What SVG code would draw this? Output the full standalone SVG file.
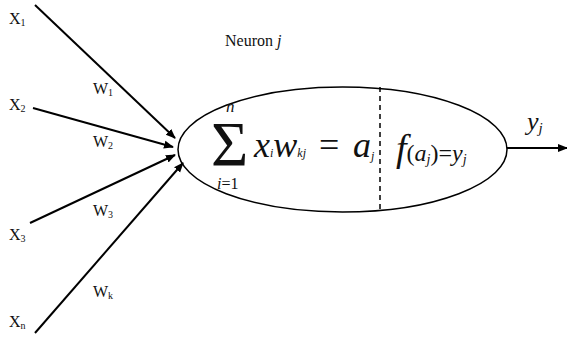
<svg xmlns="http://www.w3.org/2000/svg" width="567" height="340" viewBox="0 0 567 340">
<defs>
<marker id="ah" viewBox="0 0 10 10" refX="9" refY="5" markerWidth="10" markerHeight="10" markerUnits="userSpaceOnUse" orient="auto">
<path d="M0,1 L10,5 L0,9 Z" fill="#000"/>
</marker>
</defs>
<style>
text{fill:#111;font-family:"Times New Roman","Liberation Serif",Times,"Nimbus Roman","Noto Serif","DejaVu Serif",serif}
.lbl{font-size:16px}
.sub{font-size:10px}
.it{font-style:italic}
.edge{stroke:#000;stroke-width:2;fill:none;marker-end:url(#ah)}
</style>
<rect width="567" height="340" fill="#fff"/>
<g id="connectors">
<line class="edge" x1="35" y1="5" x2="175" y2="138"/>
<line class="edge" x1="33" y1="108" x2="173" y2="147"/>
<line class="edge" x1="30" y1="223" x2="175" y2="155"/>
<line class="edge" x1="35" y1="333" x2="183" y2="163"/>
<line class="edge" x1="507" y1="148" x2="567" y2="148"/>
</g>
<g id="inputs">
<text class="lbl" x="9" y="24">X<tspan class="sub" dy="2">1</tspan></text>
<text class="lbl" x="9" y="110">X<tspan class="sub" dy="2">2</tspan></text>
<text class="lbl" x="9" y="240">X<tspan class="sub" dy="2">3</tspan></text>
<text class="lbl" x="9" y="327">X<tspan class="sub" dy="2">n</tspan></text>
</g>
<g id="weights">
<text class="lbl" x="93" y="94">W<tspan class="sub" dy="2">1</tspan></text>
<text class="lbl" x="93" y="147">W<tspan class="sub" dy="2">2</tspan></text>
<text class="lbl" x="93" y="216">W<tspan class="sub" dy="2">3</tspan></text>
<text class="lbl" x="93" y="297">W<tspan class="sub" dy="2">k</tspan></text>
</g>
<g id="neuron">
<text x="225" y="46" style="font-size:16px">Neuron <tspan class="it">j</tspan></text>
<ellipse cx="342.5" cy="149.5" rx="164.5" ry="62.5" fill="none" stroke="#000" stroke-width="1.5"/>
<line x1="380" y1="87" x2="380" y2="212" stroke="#000" stroke-width="1.5" stroke-dasharray="5,4"/>
<text><tspan x="211" y="166" style="font-size:64px">Σ</tspan><tspan class="it" x="226" y="112" style="font-size:17px">n</tspan><tspan x="217" y="189" style="font-size:16px"><tspan class="it">i</tspan>=1</tspan></text>
<text x="254" y="157" style="font-size:36px"><tspan class="it">x</tspan><tspan class="it" style="font-size:12px">i</tspan><tspan class="it">w</tspan><tspan class="it" style="font-size:12px">kj</tspan><tspan x="319">=</tspan><tspan class="it" x="353">a</tspan><tspan class="it" style="font-size:12px" dy="3">j</tspan></text>
<text x="396" y="161" style="font-size:38px"><tspan class="it">f</tspan><tspan style="font-size:24px">(<tspan class="it">a</tspan><tspan class="it" style="font-size:14px" dy="3">j</tspan><tspan dy="-3">)=</tspan><tspan class="it">y</tspan><tspan class="it" style="font-size:14px" dy="3">j</tspan></tspan></text>
</g>
<g id="output">
<text class="it" x="527" y="130" style="font-size:26px">y<tspan style="font-size:15px" dy="3">j</tspan></text>
</g>
</svg>
